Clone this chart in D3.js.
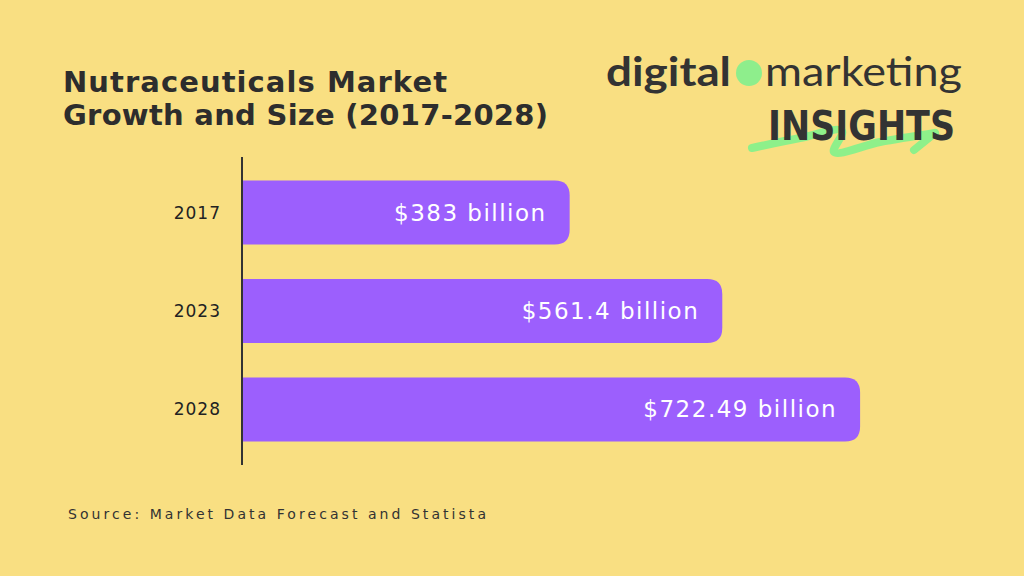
<!DOCTYPE html>
<html>
<head>
<meta charset="utf-8">
<script src="https://cdn.jsdelivr.net/npm/d3@7"></script>
<style>
  html, body { margin: 0; padding: 0; background: #f9df82; }
  svg { display: block; }
</style>
</head>
<body>
<div id="chart"></div>
<script>
// data
const years = ["2017", "2023", "2028"];
const values = [383, 561.4, 722.49];
const valueLabels = ["$383 billion", "$561.4 billion", "$722.49 billion"];

const titleLines = ["Nutraceuticals Market", "Growth and Size (2017-2028)"];
const sourceText = "Source: Market Data Forecast and Statista";

const width = 1024, height = 576;
const hand = "'DejaVu Sans', sans-serif";

const svg = d3.select("#chart").append("svg")
    .attr("width", width)
    .attr("height", height);

svg.append("rect")
    .attr("width", width)
    .attr("height", height)
    .attr("fill", "#f9df82");

// scales
let x = d3.scaleLinear()
    .domain([0, 800])
    .range([242, 242 + 800 * 0.8555]);

let y = d3.scaleBand()
    .domain(years)
    .range([157, 465])
    .paddingInner(0.35)
    .paddingOuter(0.24);

let rows = years.map((yr, i) => ({ year: yr, value: values[i], label: valueLabels[i] }));

// bars: square left, rounded right
let r = 15;
let barPath = function(d) {
    let x0 = x(0), x1 = x(d.value), y0 = y(d.year), h = y.bandwidth();
    return `M${x0},${y0} H${x1 - r} Q${x1},${y0} ${x1},${y0 + r} V${y0 + h - r} Q${x1},${y0 + h} ${x1 - r},${y0 + h} H${x0} Z`;
};

svg.selectAll(".bar")
    .data(rows)
    .enter()
    .append("path")
    .attr("class", "bar")
    .attr("d", barPath)
    .attr("fill", "#9c5ffd");

// axis line
svg.append("line")
    .attr("x1", x(0))
    .attr("x2", x(0))
    .attr("y1", y.range()[0])
    .attr("y2", y.range()[1])
    .attr("stroke", "#333")
    .attr("stroke-width", 2);

// year labels
svg.selectAll(".year")
    .data(rows)
    .enter()
    .append("text")
    .attr("class", "year")
    .attr("x", 221)
    .attr("y", d => y(d.year) + y.bandwidth() / 2 + 6)
    .attr("text-anchor", "end")
    .attr("font-family", hand)
    .attr("font-size", 17)
    .attr("letter-spacing", 1)
    .attr("fill", "#222")
    .text(d => d.year);

// value labels
svg.selectAll(".value")
    .data(rows)
    .enter()
    .append("text")
    .attr("class", "value")
    .attr("x", d => x(d.value) - 23)
    .attr("y", d => y(d.year) + y.bandwidth() / 2 + 8)
    .attr("text-anchor", "end")
    .attr("font-family", hand)
    .attr("font-size", 23)
    .attr("letter-spacing", 1.5)
    .attr("fill", "#fff")
    .text(d => d.label);

// title
svg.selectAll(".title")
    .data(titleLines)
    .enter()
    .append("text")
    .attr("class", "title")
    .attr("x", 63)
    .attr("y", (d, i) => 92 + i * 33)
    .attr("font-family", hand)
    .attr("font-size", 29)
    .attr("font-weight", "bold")
    .attr("fill", "#2d2d2d")
    .attr("textLength", (d, i) => i === 0 ? 384 : 485)
    .attr("lengthAdjust", "spacing")
    .text(d => d);

// source
svg.append("text")
    .attr("x", 68)
    .attr("y", 519)
    .attr("font-family", hand)
    .attr("font-size", 14)
    .attr("fill", "#333")
    .attr("textLength", 418)
    .attr("lengthAdjust", "spacing")
    .text(sourceText);

// logo
let logo = svg.append("g");

logo.append("text")
    .attr("x", 606)
    .attr("y", 86)
    .attr("font-family", "Lato, sans-serif")
    .attr("font-weight", "bold")
    .attr("font-size", 40)
    .attr("fill", "#333")
    .attr("textLength", 125)
    .attr("lengthAdjust", "spacingAndGlyphs")
    .text("digital");

logo.append("circle")
    .attr("cx", 749)
    .attr("cy", 73)
    .attr("r", 13)
    .attr("fill", "#8eee8c");

logo.append("text")
    .attr("x", 765)
    .attr("y", 86)
    .attr("font-family", "Lato, sans-serif")
    .attr("font-size", 40)
    .attr("fill", "#333")
    .attr("textLength", 197)
    .attr("lengthAdjust", "spacingAndGlyphs")
    .text("marketing");

logo.append("path")
    .attr("d", d3.line().curve(d3.curveCatmullRom)([[752, 148], [800, 138], [842, 131], [834, 152], [880, 142], [935, 133]]))
    .attr("fill", "none")
    .attr("stroke", "#8ef08a")
    .attr("stroke-width", 8)
    .attr("stroke-linecap", "round");

logo.append("path")
    .attr("d", "M935,133 L914,150")
    .attr("stroke", "#8ef08a")
    .attr("stroke-width", 8)
    .attr("stroke-linecap", "round");

logo.append("text")
    .attr("x", 768)
    .attr("y", 140)
    .attr("font-family", hand)
    .attr("font-weight", "bold")
    .attr("font-size", 40)
    .attr("fill", "#333")
    .attr("textLength", 187)
    .attr("lengthAdjust", "spacingAndGlyphs")
    .text("INSIGHTS");
</script>
</body>
</html>
